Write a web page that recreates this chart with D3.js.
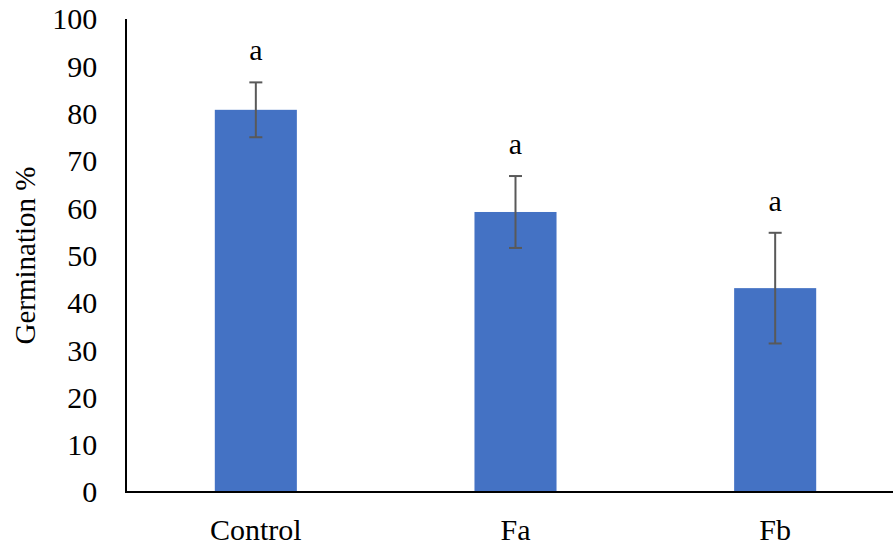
<!DOCTYPE html>
<html>
<head>
<meta charset="utf-8">
<script src="https://cdn.jsdelivr.net/npm/d3@7"></script>
<style>
  html, body { margin: 0; padding: 0; background: #fff; }
  svg { display: block; }
</style>
</head>
<body>
<svg id="chart" width="893" height="548"></svg>
<script>
// Germination percentage per treatment, with error bars and significance letters
const categories = ["Control", "Fa", "Fb"];
const germination = [80.8, 59.2, 43.1];
const errors = [5.8, 7.6, 11.7];
const letters = ["a", "a", "a"];
const yTicks = [0, 10, 20, 30, 40, 50, 60, 70, 80, 90, 100];

const FONT = "'Liberation Serif', 'Times New Roman', 'DejaVu Serif', serif";

const svg = d3.select("#chart");
const W = 893;
const plotLeft = 126, plotRight = 905, plotTop = 19, plotBottom = 492;

const x = d3.scaleBand().domain(categories).range([plotLeft, plotRight]).padding(0);
const y = d3.scaleLinear().domain([0, 100]).range([plotBottom, plotTop]);
const barW = x.bandwidth() * 0.316;

function serif(size) {
  return (sel) => sel.style("font-family", FONT).style("font-size", size + "px").style("fill", "#000");
}

// bars
svg.append("g").selectAll("rect")
  .data(categories)
  .join("rect")
  .attr("x", (d) => x(d) + x.bandwidth() / 2 - barW / 2)
  .attr("y", (d, i) => y(germination[i]))
  .attr("width", barW)
  .attr("height", (d, i) => y(0) - y(germination[i]))
  .attr("fill", "#4472C4");

// error bars
const eg = svg.append("g").attr("stroke", "#595959").attr("stroke-width", 2);
categories.forEach((c, i) => {
  const cx = x(c) + x.bandwidth() / 2;
  const hi = y(germination[i] + errors[i]);
  const lo = y(germination[i] - errors[i]);
  eg.append("line").attr("x1", cx).attr("x2", cx).attr("y1", hi).attr("y2", lo);
  eg.append("line").attr("x1", cx - 6.5).attr("x2", cx + 6.5).attr("y1", hi).attr("y2", hi);
  eg.append("line").attr("x1", cx - 6.5).attr("x2", cx + 6.5).attr("y1", lo).attr("y2", lo);
});

// significance letters
svg.append("g").selectAll("text")
  .data(categories)
  .join("text")
  .attr("x", (d) => x(d) + x.bandwidth() / 2)
  .attr("y", (d, i) => y(germination[i] + errors[i]) - 22)
  .attr("text-anchor", "middle")
  .text((d, i) => letters[i])
  .call(serif(30));

// y axis
const yAxis = d3.axisLeft(y).tickValues(yTicks).tickSize(0).tickPadding(28.7);
const gy = svg.append("g").attr("transform", `translate(${plotLeft},0)`).call(yAxis);
gy.select(".domain").remove();
gy.selectAll("text").attr("dy", "0.33em").call(serif(30));
svg.append("line").attr("x1", plotLeft).attr("x2", plotLeft).attr("y1", plotTop).attr("y2", plotBottom + 1)
  .attr("stroke", "#000").attr("stroke-width", 2);

// x axis
const xAxis = d3.axisBottom(x).tickSize(0).tickPadding(27);
const gx = svg.append("g").attr("transform", `translate(0,${plotBottom})`).call(xAxis);
gx.select(".domain").remove();
gx.selectAll("text").call(serif(30));
svg.append("line").attr("x1", plotLeft - 1).attr("x2", W).attr("y1", plotBottom).attr("y2", plotBottom)
  .attr("stroke", "#000").attr("stroke-width", 2);

// y axis title
svg.append("text")
  .attr("transform", `translate(35,${(plotTop + plotBottom) / 2}) rotate(-90)`)
  .attr("text-anchor", "middle")
  .text("Germination %")
  .call(serif(29));
</script>
</body>
</html>
